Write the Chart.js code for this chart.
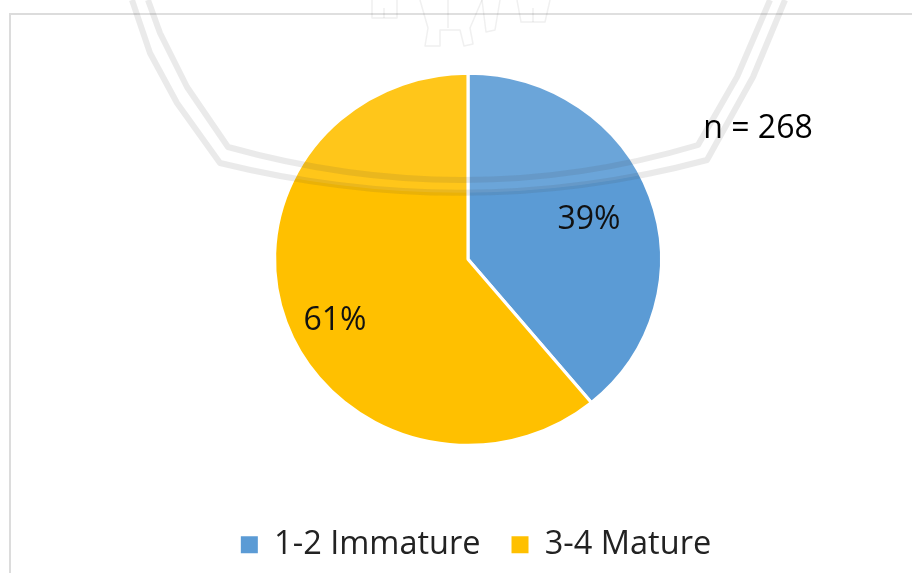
<!DOCTYPE html>
<html>
<head>
<meta charset="utf-8">
<style>
  html, body { margin: 0; padding: 0; background: #fff; overflow: hidden; width: 912px; height: 573px; }
  .chart-box { width: 912px; height: 640px; }
</style>
<script src="https://cdn.jsdelivr.net/npm/chart.js@4/dist/chart.umd.min.js"></script>
</head>
<body>
<div class="chart-box"><canvas id="pie"></canvas></div>
<script>
const categories = ["1-2 Immature", "3-4 Mature"];
const percents = [39, 61];
const sliceColors = ["#5B9BD5", "#FFC000"];
const sampleNote = "n = 268";

const FONT = "'Open Sans', sans-serif";
const STRETCH_X = 1.04; // picture is a bit wider than tall

function line(ctx, pts) {
  ctx.beginPath();
  pts.forEach((p, i) => i ? ctx.lineTo(p[0], p[1]) : ctx.moveTo(p[0], p[1]));
  ctx.stroke();
}

// the ellipse: same arc, just widened around its centre
const stretchPie = {
  id: "stretchPie",
  beforeDatasetsDraw(chart) {
    const arc = chart.getDatasetMeta(0).data[0];
    const ctx = chart.ctx;
    ctx.save();
    ctx.translate(arc.x, 0);
    ctx.scale(STRETCH_X, 1);
    ctx.translate(-arc.x, 0);
  },
  afterDatasetsDraw(chart) {
    chart.ctx.restore();
  }
};

// thin frame of the pasted chart
const frame = {
  id: "frame",
  beforeDraw(chart) {
    const ctx = chart.ctx;
    ctx.strokeStyle = "#dcdcdc";
    ctx.lineWidth = 2;
    line(ctx, [[10, 640], [10, 14], [912, 14]]);
  }
};

// page watermark that lies over the picture
const watermark = {
  id: "watermark",
  afterDatasetsDraw(chart) {
    const ctx = chart.ctx;
    ctx.save();
    // pale wash inside the crest
    ctx.fillStyle = "rgba(255,255,255,0.1)";
    ctx.beginPath();
    ctx.moveTo(132, 0);
    ctx.lineTo(150, 53); ctx.lineTo(177, 103); ctx.lineTo(220, 163);
    ctx.quadraticCurveTo(468, 224, 707, 160);
    ctx.lineTo(753, 77); ctx.lineTo(785, 0);
    ctx.closePath();
    ctx.fill();

    ctx.strokeStyle = "rgba(60,60,60,0.11)";
    ctx.lineWidth = 6;
    ctx.lineJoin = "round";
    ctx.beginPath();
    ctx.moveTo(148, 0);
    ctx.lineTo(160, 33); ctx.lineTo(187, 87); ctx.lineTo(228, 147);
    ctx.quadraticCurveTo(468, 214, 698, 145);
    ctx.lineTo(737, 77); ctx.lineTo(770, 0);
    ctx.stroke();
    ctx.beginPath();
    ctx.moveTo(132, 0);
    ctx.lineTo(150, 53); ctx.lineTo(177, 103); ctx.lineTo(220, 163);
    ctx.quadraticCurveTo(468, 224, 707, 160);
    ctx.lineTo(753, 77); ctx.lineTo(785, 0);
    ctx.stroke();

    // figures at the top of the crest
    ctx.strokeStyle = "rgba(60,60,60,0.08)";
    ctx.lineWidth = 1.5;
    [
      [[372, 0], [372, 18], [397, 18], [397, 0]],
      [[384, 18], [384, 8]],
      [[420, 0], [428, 28], [425, 46], [440, 46], [440, 30], [460, 30], [464, 46], [473, 44], [470, 28], [482, 0]],
      [[448, 0], [448, 28]],
      [[482, 0], [486, 32], [495, 30], [500, 0]],
      [[517, 0], [521, 22], [545, 22], [550, 0]],
      [[533, 22], [533, 8]]
    ].forEach(p => line(ctx, p));
    ctx.restore();
  }
};

// percent labels and the n = note, hand placed like in the original
const notes = {
  id: "notes",
  afterDraw(chart) {
    const ctx = chart.ctx;
    const arc = chart.getDatasetMeta(0).data[0];
    const offsets = [[121, -39], [-133, 62]];
    ctx.save();
    ctx.fillStyle = "#111";
    ctx.textAlign = "center";
    ctx.textBaseline = "middle";
    ctx.font = "32px " + FONT;
    percents.forEach((v, i) => {
      ctx.fillText(v + "%", arc.x + offsets[i][0], arc.y + offsets[i][1]);
    });
    ctx.fillStyle = "#000";
    ctx.fillText(sampleNote, 758, 129);
    ctx.restore();
  }
};

// legend sits right of the pie centre in the original
const shiftLegend = {
  id: "shiftLegend",
  afterLayout(chart) {
    chart.legend.left += 8;
    chart.legend.right += 8;
  }
};

new Chart(document.getElementById("pie"), {
  type: "pie",
  data: {
    labels: categories,
    datasets: [{
      data: percents,
      backgroundColor: sliceColors,
      borderColor: "#ffffff",
      borderWidth: 3,
      radius: 186
    }]
  },
  options: {
    responsive: true,
    maintainAspectRatio: false,
    animation: false,
    layout: { padding: { left: 24, top: 21, right: 0, bottom: 69 } },
    plugins: {
      tooltip: { enabled: false },
      legend: {
        position: "bottom",
        labels: {
          boxWidth: 17,
          boxHeight: 17,
          padding: 31,
          color: "#222",
          font: { family: FONT, size: 32.5 },
          // no white edge round the legend squares
          generateLabels: chart =>
            Chart.overrides.pie.plugins.legend.labels.generateLabels(chart).map(l => ({ ...l, lineWidth: 0 }))
        }
      }
    }
  },
  plugins: [frame, stretchPie, watermark, notes, shiftLegend]
});
</script>
</body>
</html>
